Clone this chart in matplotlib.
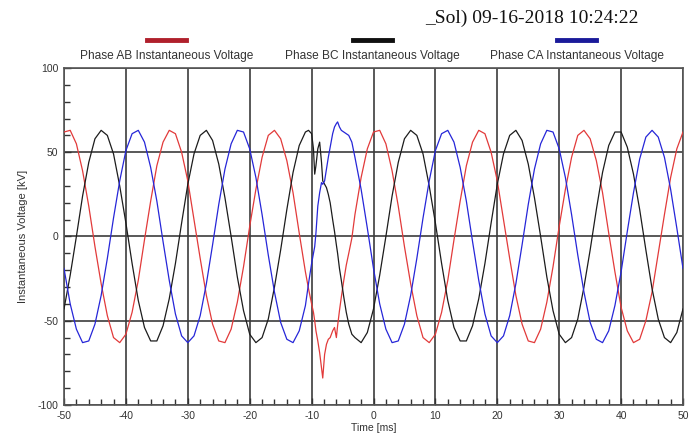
import matplotlib.pyplot as plt
import numpy as np
from matplotlib.lines import Line2D
from matplotlib.ticker import MultipleLocator

plt.rcParams['font.family'] = ['Liberation Sans', 'DejaVu Sans']
plt.rcParams['axes.unicode_minus'] = False

# sample times [ms]: 1 ms steps, finer around the disturbance
t_pre = np.arange(-50, -10)
t_fault = [-10.5, -10.0, -9.7, -9.5, -9.3, -9.0, -8.7, -8.4, -8.2, -7.9, -7.6, -7.3,
           -7.0, -6.6, -6.3, -6.0, -5.8, -5.5, -5.2, -4.8, -4.4, -4.0, -3.5]
t_post = np.arange(-3, 51)

# Phase AB [kV]
ab_pre = [62, 63, 55, 39, 18, -6, -28, -47, -60, -63, -58, -45, -26, -2, 21, 42, 56, 63, 61, 50,
          33, 10, -13, -35, -52, -62, -63, -55, -39, -18, 6, 28, 47, 60, 63, 58, 45, 26, 2, -21]
ab_fault = [-31, -40, -45, -50, -56, -62, -69, -78, -84, -70, -64, -61,
            -60, -56, -54, -60, -53, -44, -36, -26, -17, -10, -1]
ab_post = [13, 35, 52, 62, 63, 55, 39, 18, -6, -28, -47, -60, -63, -58, -45, -26, -2, 21, 42, 56,
           63, 61, 50, 33, 10, -13, -35, -52, -62, -63, -55, -39, -18, 6, 28, 47, 60, 63, 58, 45,
           26, 2, -21, -42, -56, -63, -61, -50, -33, -10, 13, 35, 52, 62]

# Phase BC [kV]
bc_pre = [-43, -23, 0, 24, 44, 58, 63, 60, 49, 30, 8, -16, -38, -54, -62, -62, -53, -37, -16, 8,
          31, 49, 60, 63, 57, 43, 23, 0, -24, -44, -58, -63, -60, -49, -30, -8, 16, 38, 54, 62]
bc_fault = [63, 61, 52, 37, 42, 52, 56, 44, 33, 31, 29, 25,
            20, 10, 3, -5, -10, -19, -26, -36, -45, -52, -58]
bc_post = [-60, -63, -57, -43, -23, 0, 24, 44, 58, 63, 60, 49, 30, 8, -16, -38, -54, -62, -62, -53,
           -37, -16, 8, 31, 49, 60, 63, 57, 43, 23, 0, -24, -44, -58, -63, -60, -49, -30, -8, 16,
           38, 54, 62, 62, 53, 37, 16, -8, -31, -49, -60, -63, -57, -43]

# Phase CA [kV]
ca_pre = [-19, -40, -55, -63, -62, -52, -35, -13, 11, 33, 51, 61, 63, 56, 41, 21, -3, -26, -46, -59,
          -63, -59, -47, -28, -5, 19, 40, 55, 63, 62, 52, 35, 13, -11, -33, -51, -61, -63, -56, -41]
ca_fault = [-28, -16, -10, -6, 2, 18, 26, 32, 31, 33, 40, 47,
            53, 61, 65, 67, 68, 65, 63, 62, 61, 60, 56]
ca_post = [47, 28, 5, -19, -40, -55, -63, -62, -52, -35, -13, 11, 33, 51, 61, 63, 56, 41, 21, -3,
           -26, -46, -59, -63, -59, -47, -28, -5, 19, 40, 55, 63, 62, 52, 35, 13, -11, -33, -51, -61,
           -63, -56, -41, -21, 3, 26, 46, 59, 63, 59, 47, 28, 5, -19]

names = ['Phase AB Instantaneous Voltage', 'Phase BC Instantaneous Voltage',
         'Phase CA Instantaneous Voltage']
colors = ['#e23a3a', '#1c1c1c', '#2626d8']
legend_colors = ['#b0202c', '#101010', '#1a1a9a']

t = np.concatenate([t_pre, t_fault, t_post])
series = [ab_pre + ab_fault + ab_post,
          bc_pre + bc_fault + bc_post,
          ca_pre + ca_fault + ca_post]

fig = plt.figure(figsize=(6.89, 4.47), dpi=100)
ax = fig.add_axes([0.0929, 0.094, 0.8984, 0.7539])

for v, c in zip(series, colors):
    ax.plot(t, v, color=c, linewidth=0.9, zorder=3)

ax.set_xlim(-50, 50)
ax.set_ylim(-100, 100)
ax.xaxis.set_major_locator(MultipleLocator(10))
ax.xaxis.set_minor_locator(MultipleLocator(2))
ax.yaxis.set_major_locator(MultipleLocator(50))
ax.yaxis.set_minor_locator(MultipleLocator(10))
ax.grid(True, which='major', color='#3c3c3c', linewidth=1.2, zorder=1)
ax.tick_params(which='both', direction='in', top=False, right=False,
               labelsize=7.5, labelcolor='#333333', color='#333333')
ax.tick_params(which='major', length=5, width=1, pad=4)
ax.tick_params(which='minor', length=4, width=1)
for s in ax.spines.values():
    s.set_color('#555555')
    s.set_linewidth(1.2)

ax.set_xlabel('Time [ms]', fontsize=7.5, color='#333333', labelpad=2)
ax.set_ylabel('Instantaneous Voltage [kV]', fontsize=8, color='#333333', labelpad=7)

# legend row above the plot: line sample on top, caption below
for x, name, c in zip([0.242, 0.541, 0.837], names, legend_colors):
    fig.add_artist(Line2D([x - 0.028, x + 0.028], [0.911, 0.911], color=c, linewidth=3.5))
    fig.text(x, 0.874, name, ha='center', va='center', fontsize=8.6, color='#333333')

fig.text(0.617, 0.958, '_Sol) 09-16-2018 10:24:22', ha='left', va='center',
         fontsize=14, family='Liberation Serif', color='#111111')

fig.savefig('out.png', dpi=100)
